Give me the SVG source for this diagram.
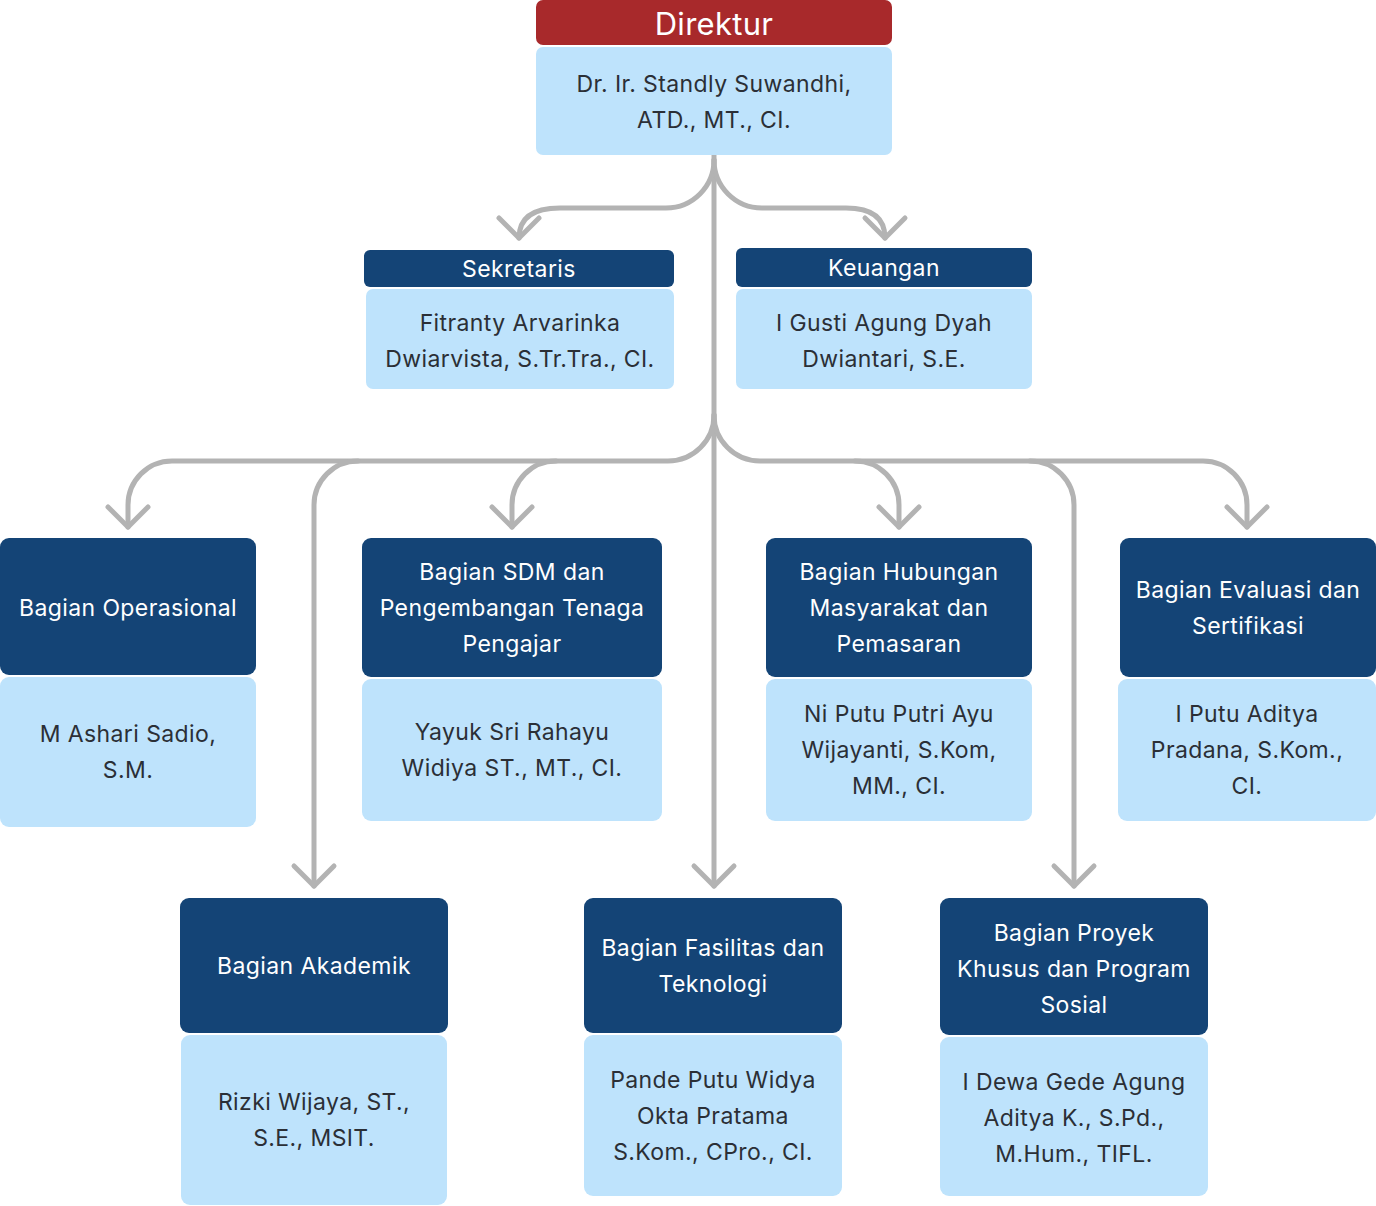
<svg xmlns="http://www.w3.org/2000/svg" width="1376" height="1206" viewBox="0 0 1376 1206">
<style>
.hd{fill:#144476}
.rd{fill:#a8292b}
.bd{fill:#bee3fc}
.ht{font-family:Inter,"Noto Sans","Liberation Sans",sans-serif;font-size:23px;letter-spacing:0.4px;fill:#ffffff;text-anchor:middle}
.dt{font-family:Inter,"Noto Sans","Liberation Sans",sans-serif;font-size:31px;letter-spacing:0.3px;fill:#ffffff;text-anchor:middle}
.bt{font-family:Inter,"Noto Sans","Liberation Sans",sans-serif;font-size:23px;letter-spacing:0.4px;fill:#2b2f36;text-anchor:middle}
.cn{fill:none;stroke:#b3b3b3;stroke-width:5;stroke-linecap:round;stroke-linejoin:round}
</style>
<rect width="1376" height="1206" fill="#ffffff"/>
<g id="connectors" class="cn">
<path d="M714 155 V886"/>
<path d="M714 160 A48 48 0 0 1 666 208 H560 Q519 208 519 238"/>
<path d="M714 160 A48 48 0 0 0 762 208 H846 Q885 208 885 238"/>
<path d="M714 415 A46 46 0 0 1 668 461 H172 A44 44 0 0 0 128 505 V527"/>
<path d="M358 461 A44 44 0 0 0 314 505 V886"/>
<path d="M556 461 A44 44 0 0 0 512 505 V527"/>
<path d="M714 415 A46 46 0 0 0 760 461 H1203 A44 44 0 0 1 1247 505 V527"/>
<path d="M855 461 A44 44 0 0 1 899 505 V527"/>
<path d="M1030 461 A44 44 0 0 1 1074 505 V886"/>
<path d="M499 218 L519 238 L539 218"/>
<path d="M865 218 L885 238 L905 218"/>
<path d="M108 507 L128 527 L148 507"/>
<path d="M492 507 L512 527 L532 507"/>
<path d="M879 507 L899 527 L919 507"/>
<path d="M1227 507 L1247 527 L1267 507"/>
<path d="M294 866 L314 886 L334 866"/>
<path d="M694 866 L714 886 L734 866"/>
<path d="M1054 866 L1074 886 L1094 866"/>
</g>
<g id="direktur">
<rect class="rd" x="536" y="0" width="356" height="45" rx="7"/>
<text class="dt" x="714" y="35">Direktur</text>
<rect class="bd" x="536" y="47" width="356" height="108" rx="7"/>
<text class="bt" x="714" y="92">Dr. Ir. Standly Suwandhi,</text>
<text class="bt" x="714" y="128">ATD., MT., CI.</text>
</g>
<g id="sekretaris">
<rect class="hd" x="364" y="250" width="310" height="37" rx="6"/>
<text class="ht" x="519" y="277">Sekretaris</text>
<rect class="bd" x="366" y="289" width="308" height="100" rx="7"/>
<text class="bt" x="520" y="331">Fitranty Arvarinka</text>
<text class="bt" x="520" y="367">Dwiarvista, S.Tr.Tra., CI.</text>
</g>
<g id="keuangan">
<rect class="hd" x="736" y="248" width="296" height="39" rx="6"/>
<text class="ht" x="884" y="276">Keuangan</text>
<rect class="bd" x="736" y="289" width="296" height="100" rx="7"/>
<text class="bt" x="884" y="331">I Gusti Agung Dyah</text>
<text class="bt" x="884" y="367">Dwiantari, S.E.</text>
</g>
<g id="operasional">
<rect class="hd" x="0" y="538" width="256" height="137" rx="9"/>
<text class="ht" x="128" y="616">Bagian Operasional</text>
<rect class="bd" x="0" y="677" width="256" height="150" rx="9"/>
<text class="bt" x="128" y="742">M Ashari Sadio,</text>
<text class="bt" x="128" y="778">S.M.</text>
</g>
<g id="sdm">
<rect class="hd" x="362" y="538" width="300" height="139" rx="9"/>
<text class="ht" x="512" y="580">Bagian SDM dan</text>
<text class="ht" x="512" y="616">Pengembangan Tenaga</text>
<text class="ht" x="512" y="652">Pengajar</text>
<rect class="bd" x="362" y="679" width="300" height="142" rx="9"/>
<text class="bt" x="512" y="740">Yayuk Sri Rahayu</text>
<text class="bt" x="512" y="776">Widiya ST., MT., CI.</text>
</g>
<g id="humas">
<rect class="hd" x="766" y="538" width="266" height="139" rx="9"/>
<text class="ht" x="899" y="580">Bagian Hubungan</text>
<text class="ht" x="899" y="616">Masyarakat dan</text>
<text class="ht" x="899" y="652">Pemasaran</text>
<rect class="bd" x="766" y="679" width="266" height="142" rx="9"/>
<text class="bt" x="899" y="722">Ni Putu Putri Ayu</text>
<text class="bt" x="899" y="758">Wijayanti, S.Kom,</text>
<text class="bt" x="899" y="794">MM., CI.</text>
</g>
<g id="evaluasi">
<rect class="hd" x="1120" y="538" width="256" height="139" rx="9"/>
<text class="ht" x="1248" y="598">Bagian Evaluasi dan</text>
<text class="ht" x="1248" y="634">Sertifikasi</text>
<rect class="bd" x="1118" y="679" width="258" height="142" rx="9"/>
<text class="bt" x="1247" y="722">I Putu Aditya</text>
<text class="bt" x="1247" y="758">Pradana, S.Kom.,</text>
<text class="bt" x="1247" y="794">CI.</text>
</g>
<g id="akademik">
<rect class="hd" x="180" y="898" width="268" height="135" rx="9"/>
<text class="ht" x="314" y="974">Bagian Akademik</text>
<rect class="bd" x="181" y="1035" width="266" height="170" rx="9"/>
<text class="bt" x="314" y="1110">Rizki Wijaya, ST.,</text>
<text class="bt" x="314" y="1146">S.E., MSIT.</text>
</g>
<g id="fasilitas">
<rect class="hd" x="584" y="898" width="258" height="135" rx="9"/>
<text class="ht" x="713" y="956">Bagian Fasilitas dan</text>
<text class="ht" x="713" y="992">Teknologi</text>
<rect class="bd" x="584" y="1035" width="258" height="161" rx="9"/>
<text class="bt" x="713" y="1088">Pande Putu Widya</text>
<text class="bt" x="713" y="1124">Okta Pratama</text>
<text class="bt" x="713" y="1160">S.Kom., CPro., CI.</text>
</g>
<g id="proyek">
<rect class="hd" x="940" y="898" width="268" height="137" rx="9"/>
<text class="ht" x="1074" y="941">Bagian Proyek</text>
<text class="ht" x="1074" y="977">Khusus dan Program</text>
<text class="ht" x="1074" y="1013">Sosial</text>
<rect class="bd" x="940" y="1037" width="268" height="159" rx="9"/>
<text class="bt" x="1074" y="1090">I Dewa Gede Agung</text>
<text class="bt" x="1074" y="1126">Aditya K., S.Pd.,</text>
<text class="bt" x="1074" y="1162">M.Hum., TIFL.</text>
</g>
</svg>
